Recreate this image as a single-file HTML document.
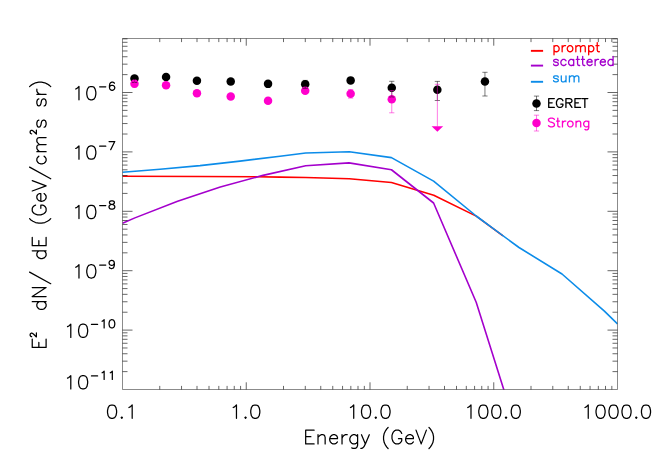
<!DOCTYPE html>
<html><head><meta charset="utf-8"><title>plot</title>
<style>html,body{margin:0;padding:0;background:#fff;font-family:"Liberation Sans",sans-serif}svg{display:block}</style></head>
<body>
<svg width="654" height="467" viewBox="0 0 654 467">
<rect width="654" height="467" fill="#fff"/>
<clipPath id="c"><rect x="122.5" y="38.5" width="495.0" height="351.0"/></clipPath>
<g clip-path="url(#c)">
<polyline points="122.50,176.30 200.00,176.50 256.50,176.80 280.00,177.10 305.70,177.50 349.30,178.70 391.45,182.50 433.75,195.30 476.20,216.10 503.00,235.95" fill="none" stroke="#ff0000" stroke-width="1.60" stroke-linejoin="round" stroke-linecap="butt"/>
<polyline points="122.50,223.25 134.90,217.87 177.60,201.14 220.30,187.03 263.00,175.35 305.70,165.80 349.00,162.90 391.45,169.75 433.60,203.00 476.20,302.30 503.60,389.00 519.00,437.60" fill="none" stroke="#a400cc" stroke-width="1.60" stroke-linejoin="round" stroke-linecap="butt"/>
<polyline points="122.50,172.20 160.00,169.20 200.00,165.60 240.00,161.10 280.00,156.25 305.70,153.00 349.30,151.70 391.45,157.60 433.60,181.10 476.20,216.00 519.00,247.50 562.00,274.00 604.40,311.10 617.50,324.00" fill="none" stroke="#0c8ce9" stroke-width="1.60" stroke-linejoin="round" stroke-linecap="butt"/>
</g>
<path d="M122.50 38.50H617.50V389.50H122.50Z" fill="none" stroke="#000" stroke-width="0.46"/>
<path d="M159.75 389.50v-3.60M159.75 38.50v3.60M181.54 389.50v-3.60M181.54 38.50v3.60M197.00 389.50v-3.60M197.00 38.50v3.60M209.00 389.50v-3.60M209.00 38.50v3.60M218.80 389.50v-3.60M218.80 38.50v3.60M227.08 389.50v-3.60M227.08 38.50v3.60M234.26 389.50v-3.60M234.26 38.50v3.60M240.59 389.50v-3.60M240.59 38.50v3.60M246.25 389.50v-7.20M246.25 38.50v7.20M283.50 389.50v-3.60M283.50 38.50v3.60M305.29 389.50v-3.60M305.29 38.50v3.60M320.75 389.50v-3.60M320.75 38.50v3.60M332.75 389.50v-3.60M332.75 38.50v3.60M342.55 389.50v-3.60M342.55 38.50v3.60M350.83 389.50v-3.60M350.83 38.50v3.60M358.01 389.50v-3.60M358.01 38.50v3.60M364.34 389.50v-3.60M364.34 38.50v3.60M370.00 389.50v-7.20M370.00 38.50v7.20M407.25 389.50v-3.60M407.25 38.50v3.60M429.04 389.50v-3.60M429.04 38.50v3.60M444.50 389.50v-3.60M444.50 38.50v3.60M456.50 389.50v-3.60M456.50 38.50v3.60M466.30 389.50v-3.60M466.30 38.50v3.60M474.58 389.50v-3.60M474.58 38.50v3.60M481.76 389.50v-3.60M481.76 38.50v3.60M488.09 389.50v-3.60M488.09 38.50v3.60M493.75 389.50v-7.20M493.75 38.50v7.20M531.00 389.50v-3.60M531.00 38.50v3.60M552.79 389.50v-3.60M552.79 38.50v3.60M568.25 389.50v-3.60M568.25 38.50v3.60M580.25 389.50v-3.60M580.25 38.50v3.60M590.05 389.50v-3.60M590.05 38.50v3.60M598.33 389.50v-3.60M598.33 38.50v3.60M605.51 389.50v-3.60M605.51 38.50v3.60M611.84 389.50v-3.60M611.84 38.50v3.60M122.50 371.62h5.00M617.50 371.62h-5.00M122.50 361.16h5.00M617.50 361.16h-5.00M122.50 353.74h5.00M617.50 353.74h-5.00M122.50 347.98h5.00M617.50 347.98h-5.00M122.50 343.28h5.00M617.50 343.28h-5.00M122.50 339.30h5.00M617.50 339.30h-5.00M122.50 335.86h5.00M617.50 335.86h-5.00M122.50 332.82h5.00M617.50 332.82h-5.00M122.50 330.10h10.00M617.50 330.10h-10.00M122.50 312.22h5.00M617.50 312.22h-5.00M122.50 301.76h5.00M617.50 301.76h-5.00M122.50 294.34h5.00M617.50 294.34h-5.00M122.50 288.58h5.00M617.50 288.58h-5.00M122.50 283.88h5.00M617.50 283.88h-5.00M122.50 279.90h5.00M617.50 279.90h-5.00M122.50 276.46h5.00M617.50 276.46h-5.00M122.50 273.42h5.00M617.50 273.42h-5.00M122.50 270.70h10.00M617.50 270.70h-10.00M122.50 252.82h5.00M617.50 252.82h-5.00M122.50 242.36h5.00M617.50 242.36h-5.00M122.50 234.94h5.00M617.50 234.94h-5.00M122.50 229.18h5.00M617.50 229.18h-5.00M122.50 224.48h5.00M617.50 224.48h-5.00M122.50 220.50h5.00M617.50 220.50h-5.00M122.50 217.06h5.00M617.50 217.06h-5.00M122.50 214.02h5.00M617.50 214.02h-5.00M122.50 211.30h10.00M617.50 211.30h-10.00M122.50 193.42h5.00M617.50 193.42h-5.00M122.50 182.96h5.00M617.50 182.96h-5.00M122.50 175.54h5.00M617.50 175.54h-5.00M122.50 169.78h5.00M617.50 169.78h-5.00M122.50 165.08h5.00M617.50 165.08h-5.00M122.50 161.10h5.00M617.50 161.10h-5.00M122.50 157.66h5.00M617.50 157.66h-5.00M122.50 154.62h5.00M617.50 154.62h-5.00M122.50 151.90h10.00M617.50 151.90h-10.00M122.50 134.02h5.00M617.50 134.02h-5.00M122.50 123.56h5.00M617.50 123.56h-5.00M122.50 116.14h5.00M617.50 116.14h-5.00M122.50 110.38h5.00M617.50 110.38h-5.00M122.50 105.68h5.00M617.50 105.68h-5.00M122.50 101.70h5.00M617.50 101.70h-5.00M122.50 98.26h5.00M617.50 98.26h-5.00M122.50 95.22h5.00M617.50 95.22h-5.00M122.50 92.50h10.00M617.50 92.50h-10.00M122.50 74.62h5.00M617.50 74.62h-5.00M122.50 64.16h5.00M617.50 64.16h-5.00M122.50 56.74h5.00M617.50 56.74h-5.00M122.50 50.98h5.00M617.50 50.98h-5.00M122.50 46.28h5.00M617.50 46.28h-5.00M122.50 42.30h5.00M617.50 42.30h-5.00M122.50 38.86h5.00M617.50 38.86h-5.00" fill="none" stroke="#000" stroke-width="0.60" stroke-linecap="butt"/>
<circle cx="134.50" cy="78.40" r="4.25" fill="#000"/>
<circle cx="166.06" cy="77.00" r="4.25" fill="#000"/>
<circle cx="196.94" cy="80.65" r="4.25" fill="#000"/>
<circle cx="230.73" cy="81.42" r="4.25" fill="#000"/>
<circle cx="268.04" cy="83.87" r="4.25" fill="#000"/>
<circle cx="305.20" cy="84.17" r="4.25" fill="#000"/>
<circle cx="350.64" cy="80.38" r="4.25" fill="#000"/>
<circle cx="391.77" cy="87.72" r="4.25" fill="#000"/>
<circle cx="437.36" cy="89.68" r="4.25" fill="#000"/>
<circle cx="484.95" cy="81.59" r="4.25" fill="#000"/>
<circle cx="134.50" cy="83.70" r="4.25" fill="#ff00cc"/>
<circle cx="166.06" cy="85.24" r="4.25" fill="#ff00cc"/>
<circle cx="196.94" cy="93.35" r="4.25" fill="#ff00cc"/>
<circle cx="230.73" cy="96.56" r="4.25" fill="#ff00cc"/>
<circle cx="268.04" cy="100.84" r="4.25" fill="#ff00cc"/>
<circle cx="305.20" cy="90.75" r="4.25" fill="#ff00cc"/>
<circle cx="350.64" cy="93.69" r="4.25" fill="#ff00cc"/>
<circle cx="391.77" cy="99.34" r="4.25" fill="#ff00cc"/>
<path d="M134.50 76.00V82.40M131.90 76.00h5.20M131.90 82.40h5.20" fill="none" stroke="#000" stroke-width="0.52"/>
<path d="M305.20 80.40V88.30M302.60 80.40h5.20M302.60 88.30h5.20" fill="none" stroke="#000" stroke-width="0.52"/>
<path d="M391.77 81.30V97.00M389.17 81.30h5.20M389.17 97.00h5.20" fill="none" stroke="#000" stroke-width="0.52"/>
<path d="M437.36 81.40V100.50M434.76 81.40h5.20M434.76 100.50h5.20" fill="none" stroke="#000" stroke-width="0.52"/>
<path d="M484.95 72.30V96.00M482.35 72.30h5.20M482.35 96.00h5.20" fill="none" stroke="#000" stroke-width="0.52"/>
<path d="M134.50 80.30V87.00M131.90 80.30h5.20M131.90 87.00h5.20" fill="none" stroke="#ff00cc" stroke-width="0.52"/>
<path d="M350.64 89.60V98.10M348.04 89.60h5.20M348.04 98.10h5.20" fill="none" stroke="#ff00cc" stroke-width="0.52"/>
<path d="M391.77 90.50V112.80M389.17 90.50h5.20M389.17 112.80h5.20" fill="none" stroke="#ff00cc" stroke-width="0.52"/>
<path d="M437.36 84.30V126.30M434.76 84.30h5.20" fill="none" stroke="#ff00cc" stroke-width="0.52"/>
<path d="M431.56 126.30h11.60l-5.80 5.50z" fill="#ff00cc"/>
<path d="M530.90 50.85H543.10" stroke="#ff0000" stroke-width="1.90" fill="none"/>
<path d="M530.90 65.60H543.10" stroke="#a400cc" stroke-width="1.90" fill="none"/>
<path d="M530.90 81.80H543.10" stroke="#0c8ce9" stroke-width="1.90" fill="none"/>
<path transform="translate(552.30 51.75) translate(0.00 0)" d="M1.71 -6.09L1.71 3.04M1.71 -4.79L2.57 -5.66L3.42 -6.09L4.71 -6.09L5.56 -5.66L6.42 -4.79L6.85 -3.48L6.85 -2.61L6.42 -1.30L5.56 -0.43L4.71 0.00L3.42 0.00L2.57 -0.43L1.71 -1.30M9.84 -6.09L9.84 0.00M9.84 -3.48L10.27 -4.79L11.13 -5.66L11.98 -6.09L13.27 -6.09M17.12 -6.09L16.26 -5.66L15.41 -4.79L14.98 -3.48L14.98 -2.61L15.41 -1.30L16.26 -0.43L17.12 0.00L18.40 0.00L19.26 -0.43L20.12 -1.30L20.54 -2.61L20.54 -3.48L20.12 -4.79L19.26 -5.66L18.40 -6.09L17.12 -6.09M23.54 -6.09L23.54 0.00M23.54 -4.35L24.82 -5.66L25.68 -6.09L26.96 -6.09L27.82 -5.66L28.25 -4.35L28.25 0.00M28.25 -4.35L29.53 -5.66L30.39 -6.09L31.67 -6.09L32.53 -5.66L32.96 -4.35L32.96 0.00M36.38 -6.09L36.38 3.04M36.38 -4.79L37.24 -5.66L38.09 -6.09L39.38 -6.09L40.23 -5.66L41.09 -4.79L41.52 -3.48L41.52 -2.61L41.09 -1.30L40.23 -0.43L39.38 0.00L38.09 0.00L37.24 -0.43L36.38 -1.30M44.94 -9.13L44.94 -1.74L45.37 -0.43L46.22 0.00L47.08 0.00M43.66 -6.09L46.65 -6.09" fill="none" stroke="#ff0000" stroke-width="1.32" stroke-linecap="round" stroke-linejoin="round"/>
<path transform="translate(552.30 65.50) translate(0.00 0)" d="M5.99 -4.79L5.56 -5.66L4.28 -6.09L3.00 -6.09L1.71 -5.66L1.28 -4.79L1.71 -3.92L2.57 -3.48L4.71 -3.04L5.56 -2.61L5.99 -1.74L5.99 -1.30L5.56 -0.43L4.28 0.00L3.00 0.00L1.71 -0.43L1.28 -1.30M13.70 -4.79L12.84 -5.66L11.98 -6.09L10.70 -6.09L9.84 -5.66L8.99 -4.79L8.56 -3.48L8.56 -2.61L8.99 -1.30L9.84 -0.43L10.70 0.00L11.98 0.00L12.84 -0.43L13.70 -1.30M21.40 -6.09L21.40 0.00M21.40 -4.79L20.54 -5.66L19.69 -6.09L18.40 -6.09L17.55 -5.66L16.69 -4.79L16.26 -3.48L16.26 -2.61L16.69 -1.30L17.55 -0.43L18.40 0.00L19.69 0.00L20.54 -0.43L21.40 -1.30M25.25 -9.13L25.25 -1.74L25.68 -0.43L26.54 0.00L27.39 0.00M23.97 -6.09L26.96 -6.09M30.39 -9.13L30.39 -1.74L30.82 -0.43L31.67 0.00L32.53 0.00M29.10 -6.09L32.10 -6.09M34.67 -3.48L39.80 -3.48L39.80 -4.35L39.38 -5.22L38.95 -5.66L38.09 -6.09L36.81 -6.09L35.95 -5.66L35.10 -4.79L34.67 -3.48L34.67 -2.61L35.10 -1.30L35.95 -0.43L36.81 0.00L38.09 0.00L38.95 -0.43L39.80 -1.30M42.80 -6.09L42.80 0.00M42.80 -3.48L43.23 -4.79L44.08 -5.66L44.94 -6.09L46.22 -6.09M47.94 -3.48L53.07 -3.48L53.07 -4.35L52.64 -5.22L52.22 -5.66L51.36 -6.09L50.08 -6.09L49.22 -5.66L48.36 -4.79L47.94 -3.48L47.94 -2.61L48.36 -1.30L49.22 -0.43L50.08 0.00L51.36 0.00L52.22 -0.43L53.07 -1.30M60.78 -9.13L60.78 0.00M60.78 -4.79L59.92 -5.66L59.06 -6.09L57.78 -6.09L56.92 -5.66L56.07 -4.79L55.64 -3.48L55.64 -2.61L56.07 -1.30L56.92 -0.43L57.78 0.00L59.06 0.00L59.92 -0.43L60.78 -1.30" fill="none" stroke="#a400cc" stroke-width="1.32" stroke-linecap="round" stroke-linejoin="round"/>
<path transform="translate(552.30 81.90) translate(0.00 0)" d="M5.99 -4.79L5.56 -5.66L4.28 -6.09L3.00 -6.09L1.71 -5.66L1.28 -4.79L1.71 -3.92L2.57 -3.48L4.71 -3.04L5.56 -2.61L5.99 -1.74L5.99 -1.30L5.56 -0.43L4.28 0.00L3.00 0.00L1.71 -0.43L1.28 -1.30M8.99 -6.09L8.99 -1.74L9.42 -0.43L10.27 0.00L11.56 0.00L12.41 -0.43L13.70 -1.74M13.70 -6.09L13.70 0.00M17.12 -6.09L17.12 0.00M17.12 -4.35L18.40 -5.66L19.26 -6.09L20.54 -6.09L21.40 -5.66L21.83 -4.35L21.83 0.00M21.83 -4.35L23.11 -5.66L23.97 -6.09L25.25 -6.09L26.11 -5.66L26.54 -4.35L26.54 0.00" fill="none" stroke="#0c8ce9" stroke-width="1.32" stroke-linecap="round" stroke-linejoin="round"/>
<path d="M536.50 96.10V110.60M533.90 96.10h5.20M533.90 110.60h5.20" fill="none" stroke="#000" stroke-width="0.52"/>
<circle cx="536.50" cy="103.45" r="4.25" fill="#000"/>
<path d="M536.50 115.20V131.00M533.90 115.20h5.20M533.90 131.00h5.20" fill="none" stroke="#ff00cc" stroke-width="0.52"/>
<circle cx="536.50" cy="122.90" r="4.25" fill="#ff00cc"/>
<path transform="translate(547.00 107.40) translate(0.00 0)" d="M1.72 -8.78L1.72 0.00M1.72 -8.78L7.31 -8.78M1.72 -4.60L5.16 -4.60M1.72 0.00L7.31 0.00M15.91 -6.69L15.48 -7.52L14.62 -8.36L13.76 -8.78L12.04 -8.78L11.18 -8.36L10.32 -7.52L9.89 -6.69L9.46 -5.43L9.46 -3.34L9.89 -2.09L10.32 -1.25L11.18 -0.42L12.04 0.00L13.76 0.00L14.62 -0.42L15.48 -1.25L15.91 -2.09L15.91 -3.34M13.76 -3.34L15.91 -3.34M18.92 -8.78L18.92 0.00M18.92 -8.78L22.79 -8.78L24.08 -8.36L24.51 -7.94L24.94 -7.11L24.94 -6.27L24.51 -5.43L24.08 -5.02L22.79 -4.60L18.92 -4.60M21.93 -4.60L24.94 0.00M27.95 -8.78L27.95 0.00M27.95 -8.78L33.54 -8.78M27.95 -4.60L31.39 -4.60M27.95 0.00L33.54 0.00M37.84 -8.78L37.84 0.00M34.83 -8.78L40.85 -8.78" fill="none" stroke="#000" stroke-width="1.32" stroke-linecap="round" stroke-linejoin="round"/>
<path transform="translate(547.20 126.90) translate(0.00 0)" d="M7.21 -7.52L6.36 -8.36L5.09 -8.78L3.39 -8.78L2.12 -8.36L1.27 -7.52L1.27 -6.69L1.70 -5.85L2.12 -5.43L2.97 -5.02L5.51 -4.18L6.36 -3.76L6.78 -3.34L7.21 -2.51L7.21 -1.25L6.36 -0.42L5.09 0.00L3.39 0.00L2.12 -0.42L1.27 -1.25M10.60 -8.78L10.60 -1.67L11.02 -0.42L11.87 0.00L12.72 0.00M9.33 -5.85L12.30 -5.85M15.26 -5.85L15.26 0.00M15.26 -3.34L15.69 -4.60L16.54 -5.43L17.38 -5.85L18.66 -5.85M22.47 -5.85L21.62 -5.43L20.78 -4.60L20.35 -3.34L20.35 -2.51L20.78 -1.25L21.62 -0.42L22.47 0.00L23.74 0.00L24.59 -0.42L25.44 -1.25L25.86 -2.51L25.86 -3.34L25.44 -4.60L24.59 -5.43L23.74 -5.85L22.47 -5.85M28.83 -5.85L28.83 0.00M28.83 -4.18L30.10 -5.43L30.95 -5.85L32.22 -5.85L33.07 -5.43L33.50 -4.18L33.50 0.00M41.55 -5.85L41.55 0.84L41.13 2.09L40.70 2.51L39.86 2.93L38.58 2.93L37.74 2.51M41.55 -4.60L40.70 -5.43L39.86 -5.85L38.58 -5.85L37.74 -5.43L36.89 -4.60L36.46 -3.34L36.46 -2.51L36.89 -1.25L37.74 -0.42L38.58 0.00L39.86 0.00L40.70 -0.42L41.55 -1.25" fill="none" stroke="#ff00cc" stroke-width="1.32" stroke-linecap="round" stroke-linejoin="round"/>
<path transform="translate(63.65 388.90) translate(0.00 0)" d="M3.89 -10.74L5.19 -11.38L7.14 -13.27L7.14 0.00M18.82 -13.27L16.87 -12.64L15.58 -10.74L14.93 -7.58L14.93 -5.69L15.58 -2.53L16.87 -0.63L18.82 0.00L20.12 0.00L22.07 -0.63L23.36 -2.53L24.01 -5.69L24.01 -7.58L23.36 -10.74L22.07 -12.64L20.12 -13.27L18.82 -13.27" fill="none" stroke="#000" stroke-width="1.25" stroke-linecap="round" stroke-linejoin="round"/>
<path transform="translate(91.46 379.40) translate(0.00 0)" d="M0.00 -3.49L6.13 -3.49M10.63 -6.60L11.45 -6.98L12.68 -8.15L12.68 0.00M18.81 -6.60L19.63 -6.98L20.86 -8.15L20.86 0.00" fill="none" stroke="#000" stroke-width="1.25" stroke-linecap="round" stroke-linejoin="round"/>
<path transform="translate(63.65 337.40) translate(0.00 0)" d="M3.89 -10.74L5.19 -11.38L7.14 -13.27L7.14 0.00M18.82 -13.27L16.87 -12.64L15.58 -10.74L14.93 -7.58L14.93 -5.69L15.58 -2.53L16.87 -0.63L18.82 0.00L20.12 0.00L22.07 -0.63L23.36 -2.53L24.01 -5.69L24.01 -7.58L23.36 -10.74L22.07 -12.64L20.12 -13.27L18.82 -13.27" fill="none" stroke="#000" stroke-width="1.25" stroke-linecap="round" stroke-linejoin="round"/>
<path transform="translate(91.46 327.90) translate(0.00 0)" d="M0.00 -3.49L6.13 -3.49M10.63 -6.60L11.45 -6.98L12.68 -8.15L12.68 0.00M20.04 -8.15L18.81 -7.76L18.00 -6.60L17.59 -4.66L17.59 -3.49L18.00 -1.55L18.81 -0.39L20.04 0.00L20.86 0.00L22.09 -0.39L22.90 -1.55L23.31 -3.49L23.31 -4.66L22.90 -6.60L22.09 -7.76L20.86 -8.15L20.04 -8.15" fill="none" stroke="#000" stroke-width="1.25" stroke-linecap="round" stroke-linejoin="round"/>
<path transform="translate(71.83 278.00) translate(0.00 0)" d="M3.89 -10.74L5.19 -11.38L7.14 -13.27L7.14 0.00M18.82 -13.27L16.87 -12.64L15.58 -10.74L14.93 -7.58L14.93 -5.69L15.58 -2.53L16.87 -0.63L18.82 0.00L20.12 0.00L22.07 -0.63L23.36 -2.53L24.01 -5.69L24.01 -7.58L23.36 -10.74L22.07 -12.64L20.12 -13.27L18.82 -13.27" fill="none" stroke="#000" stroke-width="1.25" stroke-linecap="round" stroke-linejoin="round"/>
<path transform="translate(99.64 268.50) translate(0.00 0)" d="M0.00 -3.49L6.13 -3.49M14.72 -5.43L14.31 -4.27L13.50 -3.49L12.27 -3.10L11.86 -3.10L10.63 -3.49L9.82 -4.27L9.41 -5.43L9.41 -5.82L9.82 -6.98L10.63 -7.76L11.86 -8.15L12.27 -8.15L13.50 -7.76L14.31 -6.98L14.72 -5.43L14.72 -3.49L14.31 -1.55L13.50 -0.39L12.27 0.00L11.45 0.00L10.22 -0.39L9.82 -1.16" fill="none" stroke="#000" stroke-width="1.25" stroke-linecap="round" stroke-linejoin="round"/>
<path transform="translate(71.83 218.60) translate(0.00 0)" d="M3.89 -10.74L5.19 -11.38L7.14 -13.27L7.14 0.00M18.82 -13.27L16.87 -12.64L15.58 -10.74L14.93 -7.58L14.93 -5.69L15.58 -2.53L16.87 -0.63L18.82 0.00L20.12 0.00L22.07 -0.63L23.36 -2.53L24.01 -5.69L24.01 -7.58L23.36 -10.74L22.07 -12.64L20.12 -13.27L18.82 -13.27" fill="none" stroke="#000" stroke-width="1.25" stroke-linecap="round" stroke-linejoin="round"/>
<path transform="translate(99.64 209.10) translate(0.00 0)" d="M0.00 -3.49L6.13 -3.49M11.45 -8.15L10.22 -7.76L9.82 -6.98L9.82 -6.21L10.22 -5.43L11.04 -5.04L12.68 -4.66L13.91 -4.27L14.72 -3.49L15.13 -2.72L15.13 -1.55L14.72 -0.78L14.31 -0.39L13.09 0.00L11.45 0.00L10.22 -0.39L9.82 -0.78L9.41 -1.55L9.41 -2.72L9.82 -3.49L10.63 -4.27L11.86 -4.66L13.50 -5.04L14.31 -5.43L14.72 -6.21L14.72 -6.98L14.31 -7.76L13.09 -8.15L11.45 -8.15" fill="none" stroke="#000" stroke-width="1.25" stroke-linecap="round" stroke-linejoin="round"/>
<path transform="translate(71.83 159.20) translate(0.00 0)" d="M3.89 -10.74L5.19 -11.38L7.14 -13.27L7.14 0.00M18.82 -13.27L16.87 -12.64L15.58 -10.74L14.93 -7.58L14.93 -5.69L15.58 -2.53L16.87 -0.63L18.82 0.00L20.12 0.00L22.07 -0.63L23.36 -2.53L24.01 -5.69L24.01 -7.58L23.36 -10.74L22.07 -12.64L20.12 -13.27L18.82 -13.27" fill="none" stroke="#000" stroke-width="1.25" stroke-linecap="round" stroke-linejoin="round"/>
<path transform="translate(99.64 149.70) translate(0.00 0)" d="M0.00 -3.49L6.13 -3.49M15.13 -8.15L11.04 0.00M9.41 -8.15L15.13 -8.15" fill="none" stroke="#000" stroke-width="1.25" stroke-linecap="round" stroke-linejoin="round"/>
<path transform="translate(71.83 99.80) translate(0.00 0)" d="M3.89 -10.74L5.19 -11.38L7.14 -13.27L7.14 0.00M18.82 -13.27L16.87 -12.64L15.58 -10.74L14.93 -7.58L14.93 -5.69L15.58 -2.53L16.87 -0.63L18.82 0.00L20.12 0.00L22.07 -0.63L23.36 -2.53L24.01 -5.69L24.01 -7.58L23.36 -10.74L22.07 -12.64L20.12 -13.27L18.82 -13.27" fill="none" stroke="#000" stroke-width="1.25" stroke-linecap="round" stroke-linejoin="round"/>
<path transform="translate(99.64 90.30) translate(0.00 0)" d="M0.00 -3.49L6.13 -3.49M14.72 -6.98L14.31 -7.76L13.09 -8.15L12.27 -8.15L11.04 -7.76L10.22 -6.60L9.82 -4.66L9.82 -2.72L10.22 -1.16L11.04 -0.39L12.27 0.00L12.68 0.00L13.91 -0.39L14.72 -1.16L15.13 -2.33L15.13 -2.72L14.72 -3.88L13.91 -4.66L12.68 -5.04L12.27 -5.04L11.04 -4.66L10.22 -3.88L9.82 -2.72" fill="none" stroke="#000" stroke-width="1.25" stroke-linecap="round" stroke-linejoin="round"/>
<path transform="translate(121.80 418.30) translate(-16.23 0)" d="M5.84 -13.27L3.89 -12.64L2.60 -10.74L1.95 -7.58L1.95 -5.69L2.60 -2.53L3.89 -0.63L5.84 0.00L7.14 0.00L9.09 -0.63L10.38 -2.53L11.03 -5.69L11.03 -7.58L10.38 -10.74L9.09 -12.64L7.14 -13.27L5.84 -13.27M16.23 -1.26L15.58 -0.63L16.23 0.00L16.87 -0.63L16.23 -1.26M23.36 -10.74L24.66 -11.38L26.61 -13.27L26.61 0.00" fill="none" stroke="#000" stroke-width="1.25" stroke-linecap="round" stroke-linejoin="round"/>
<path transform="translate(245.55 418.30) translate(-16.23 0)" d="M3.89 -10.74L5.19 -11.38L7.14 -13.27L7.14 0.00M16.23 -1.26L15.58 -0.63L16.23 0.00L16.87 -0.63L16.23 -1.26M25.31 -13.27L23.36 -12.64L22.07 -10.74L21.42 -7.58L21.42 -5.69L22.07 -2.53L23.36 -0.63L25.31 0.00L26.61 0.00L28.56 -0.63L29.85 -2.53L30.50 -5.69L30.50 -7.58L29.85 -10.74L28.56 -12.64L26.61 -13.27L25.31 -13.27" fill="none" stroke="#000" stroke-width="1.25" stroke-linecap="round" stroke-linejoin="round"/>
<path transform="translate(369.30 418.30) translate(-22.72 0)" d="M3.89 -10.74L5.19 -11.38L7.14 -13.27L7.14 0.00M18.82 -13.27L16.87 -12.64L15.58 -10.74L14.93 -7.58L14.93 -5.69L15.58 -2.53L16.87 -0.63L18.82 0.00L20.12 0.00L22.07 -0.63L23.36 -2.53L24.01 -5.69L24.01 -7.58L23.36 -10.74L22.07 -12.64L20.12 -13.27L18.82 -13.27M29.21 -1.26L28.56 -0.63L29.21 0.00L29.85 -0.63L29.21 -1.26M38.29 -13.27L36.34 -12.64L35.05 -10.74L34.40 -7.58L34.40 -5.69L35.05 -2.53L36.34 -0.63L38.29 0.00L39.59 0.00L41.54 -0.63L42.83 -2.53L43.48 -5.69L43.48 -7.58L42.83 -10.74L41.54 -12.64L39.59 -13.27L38.29 -13.27" fill="none" stroke="#000" stroke-width="1.25" stroke-linecap="round" stroke-linejoin="round"/>
<path transform="translate(493.05 418.30) translate(-29.20 0)" d="M3.89 -10.74L5.19 -11.38L7.14 -13.27L7.14 0.00M18.82 -13.27L16.87 -12.64L15.58 -10.74L14.93 -7.58L14.93 -5.69L15.58 -2.53L16.87 -0.63L18.82 0.00L20.12 0.00L22.07 -0.63L23.36 -2.53L24.01 -5.69L24.01 -7.58L23.36 -10.74L22.07 -12.64L20.12 -13.27L18.82 -13.27M31.80 -13.27L29.85 -12.64L28.56 -10.74L27.91 -7.58L27.91 -5.69L28.56 -2.53L29.85 -0.63L31.80 0.00L33.10 0.00L35.05 -0.63L36.34 -2.53L36.99 -5.69L36.99 -7.58L36.34 -10.74L35.05 -12.64L33.10 -13.27L31.80 -13.27M42.18 -1.26L41.54 -0.63L42.18 0.00L42.83 -0.63L42.18 -1.26M51.27 -13.27L49.32 -12.64L48.03 -10.74L47.38 -7.58L47.38 -5.69L48.03 -2.53L49.32 -0.63L51.27 0.00L52.57 0.00L54.52 -0.63L55.81 -2.53L56.46 -5.69L56.46 -7.58L55.81 -10.74L54.52 -12.64L52.57 -13.27L51.27 -13.27" fill="none" stroke="#000" stroke-width="1.25" stroke-linecap="round" stroke-linejoin="round"/>
<path transform="translate(616.80 418.30) translate(-35.70 0)" d="M3.89 -10.74L5.19 -11.38L7.14 -13.27L7.14 0.00M18.82 -13.27L16.87 -12.64L15.58 -10.74L14.93 -7.58L14.93 -5.69L15.58 -2.53L16.87 -0.63L18.82 0.00L20.12 0.00L22.07 -0.63L23.36 -2.53L24.01 -5.69L24.01 -7.58L23.36 -10.74L22.07 -12.64L20.12 -13.27L18.82 -13.27M31.80 -13.27L29.85 -12.64L28.56 -10.74L27.91 -7.58L27.91 -5.69L28.56 -2.53L29.85 -0.63L31.80 0.00L33.10 0.00L35.05 -0.63L36.34 -2.53L36.99 -5.69L36.99 -7.58L36.34 -10.74L35.05 -12.64L33.10 -13.27L31.80 -13.27M44.78 -13.27L42.83 -12.64L41.54 -10.74L40.89 -7.58L40.89 -5.69L41.54 -2.53L42.83 -0.63L44.78 0.00L46.08 0.00L48.03 -0.63L49.32 -2.53L49.97 -5.69L49.97 -7.58L49.32 -10.74L48.03 -12.64L46.08 -13.27L44.78 -13.27M55.16 -1.26L54.52 -0.63L55.16 0.00L55.81 -0.63L55.16 -1.26M64.25 -13.27L62.30 -12.64L61.01 -10.74L60.36 -7.58L60.36 -5.69L61.01 -2.53L62.30 -0.63L64.25 0.00L65.55 0.00L67.50 -0.63L68.79 -2.53L69.44 -5.69L69.44 -7.58L68.79 -10.74L67.50 -12.64L65.55 -13.27L64.25 -13.27" fill="none" stroke="#000" stroke-width="1.25" stroke-linecap="round" stroke-linejoin="round"/>
<path transform="translate(369.60 443.90) translate(-66.52 0)" d="M2.60 -13.76L2.60 0.00M2.60 -13.76L11.03 -13.76M2.60 -7.21L7.79 -7.21M2.60 0.00L11.03 0.00M14.93 -9.17L14.93 0.00M14.93 -6.55L16.87 -8.52L18.17 -9.17L20.12 -9.17L21.42 -8.52L22.07 -6.55L22.07 0.00M26.61 -5.24L34.40 -5.24L34.40 -6.55L33.75 -7.86L33.10 -8.52L31.80 -9.17L29.85 -9.17L28.56 -8.52L27.26 -7.21L26.61 -5.24L26.61 -3.93L27.26 -1.97L28.56 -0.66L29.85 0.00L31.80 0.00L33.10 -0.66L34.40 -1.97M38.94 -9.17L38.94 0.00M38.94 -5.24L39.59 -7.21L40.89 -8.52L42.19 -9.17L44.13 -9.17M54.52 -9.17L54.52 1.31L53.87 3.28L53.22 3.93L51.92 4.58L49.97 4.58L48.68 3.93M54.52 -7.21L53.22 -8.52L51.92 -9.17L49.97 -9.17L48.68 -8.52L47.38 -7.21L46.73 -5.24L46.73 -3.93L47.38 -1.97L48.68 -0.66L49.97 0.00L51.92 0.00L53.22 -0.66L54.52 -1.97M58.41 -9.17L62.30 0.00M66.20 -9.17L62.30 0.00L61.01 2.62L59.71 3.93L58.41 4.58L57.76 4.58M85.02 -16.38L83.72 -15.07L82.42 -13.10L81.13 -10.48L80.48 -7.21L80.48 -4.58L81.13 -1.31L82.42 1.31L83.72 3.28L85.02 4.58M98.65 -10.48L98.00 -11.79L96.70 -13.10L95.40 -13.76L92.81 -13.76L91.51 -13.10L90.21 -11.79L89.56 -10.48L88.91 -8.52L88.91 -5.24L89.56 -3.28L90.21 -1.97L91.51 -0.66L92.81 0.00L95.40 0.00L96.70 -0.66L98.00 -1.97L98.65 -3.28L98.65 -5.24M95.40 -5.24L98.65 -5.24M102.54 -5.24L110.33 -5.24L110.33 -6.55L109.68 -7.86L109.03 -8.52L107.73 -9.17L105.79 -9.17L104.49 -8.52L103.19 -7.21L102.54 -5.24L102.54 -3.93L103.19 -1.97L104.49 -0.66L105.79 0.00L107.73 0.00L109.03 -0.66L110.33 -1.97M112.93 -13.76L118.12 0.00M123.31 -13.76L118.12 0.00M125.91 -16.38L127.20 -15.07L128.50 -13.10L129.80 -10.48L130.45 -7.21L130.45 -4.58L129.80 -1.31L128.50 1.31L127.20 3.28L125.91 4.58" fill="none" stroke="#000" stroke-width="1.25" stroke-linecap="round" stroke-linejoin="round"/>
<path transform="translate(46.10 214.80) rotate(-90) translate(-135.24 0)" d="M2.58 -13.86L2.58 0.00M2.58 -13.86L10.95 -13.86M2.58 -7.26L7.73 -7.26M2.58 0.00L10.95 0.00M13.40 -14.45L13.40 -14.75L13.69 -15.34L13.97 -15.64L14.55 -15.94L15.71 -15.94L16.29 -15.64L16.58 -15.34L16.87 -14.75L16.87 -14.15L16.58 -13.56L16.00 -12.67L13.11 -9.70L17.16 -9.70M48.30 -13.86L48.30 0.00M48.30 -7.26L47.01 -8.58L45.72 -9.24L43.79 -9.24L42.50 -8.58L41.22 -7.26L40.57 -5.28L40.57 -3.96L41.22 -1.98L42.50 -0.66L43.79 0.00L45.72 0.00L47.01 -0.66L48.30 -1.98M53.45 -13.86L53.45 0.00M53.45 -13.86L62.47 0.00M62.47 -13.86L62.47 0.00M77.92 -16.50L66.33 4.62M99.18 -13.86L99.18 0.00M99.18 -7.26L97.89 -8.58L96.60 -9.24L94.67 -9.24L93.38 -8.58L92.09 -7.26L91.45 -5.28L91.45 -3.96L92.09 -1.98L93.38 -0.66L94.67 0.00L96.60 0.00L97.89 -0.66L99.18 -1.98M104.33 -13.86L104.33 0.00M104.33 -13.86L112.70 -13.86M104.33 -7.26L109.48 -7.26M104.33 0.00L112.70 0.00M131.38 -16.50L130.09 -15.18L128.80 -13.20L127.51 -10.56L126.87 -7.26L126.87 -4.62L127.51 -1.32L128.80 1.32L130.09 3.30L131.38 4.62M144.90 -10.56L144.26 -11.88L142.97 -13.20L141.68 -13.86L139.10 -13.86L137.82 -13.20L136.53 -11.88L135.88 -10.56L135.24 -8.58L135.24 -5.28L135.88 -3.30L136.53 -1.98L137.82 -0.66L139.10 0.00L141.68 0.00L142.97 -0.66L144.26 -1.98L144.90 -3.30L144.90 -5.28M141.68 -5.28L144.90 -5.28M148.76 -5.28L156.49 -5.28L156.49 -6.60L155.85 -7.92L155.20 -8.58L153.92 -9.24L151.98 -9.24L150.70 -8.58L149.41 -7.26L148.76 -5.28L148.76 -3.96L149.41 -1.98L150.70 -0.66L151.98 0.00L153.92 0.00L155.20 -0.66L156.49 -1.98M159.07 -13.86L164.22 0.00M169.37 -13.86L164.22 0.00M182.90 -16.50L171.30 4.62M193.84 -7.26L192.56 -8.58L191.27 -9.24L189.34 -9.24L188.05 -8.58L186.76 -7.26L186.12 -5.28L186.12 -3.96L186.76 -1.98L188.05 -0.66L189.34 0.00L191.27 0.00L192.56 -0.66L193.84 -1.98M198.35 -9.24L198.35 0.00M198.35 -6.60L200.28 -8.58L201.57 -9.24L203.50 -9.24L204.79 -8.58L205.44 -6.60L205.44 0.00M205.44 -6.60L207.37 -8.58L208.66 -9.24L210.59 -9.24L211.88 -8.58L212.52 -6.60L212.52 0.00M216.26 -14.45L216.26 -14.75L216.55 -15.34L216.83 -15.64L217.41 -15.94L218.57 -15.94L219.15 -15.64L219.44 -15.34L219.73 -14.75L219.73 -14.15L219.44 -13.56L218.86 -12.67L215.97 -9.70L220.02 -9.70M229.91 -7.26L229.26 -8.58L227.33 -9.24L225.40 -9.24L223.47 -8.58L222.82 -7.26L223.47 -5.94L224.76 -5.28L227.98 -4.62L229.26 -3.96L229.91 -2.64L229.91 -1.98L229.26 -0.66L227.33 0.00L225.40 0.00L223.47 -0.66L222.82 -1.98M251.16 -7.26L250.52 -8.58L248.58 -9.24L246.65 -9.24L244.72 -8.58L244.08 -7.26L244.72 -5.94L246.01 -5.28L249.23 -4.62L250.52 -3.96L251.16 -2.64L251.16 -1.98L250.52 -0.66L248.58 0.00L246.65 0.00L244.72 -0.66L244.08 -1.98M255.67 -9.24L255.67 0.00M255.67 -5.28L256.31 -7.26L257.60 -8.58L258.89 -9.24L260.82 -9.24M263.40 -16.50L264.68 -15.18L265.97 -13.20L267.26 -10.56L267.90 -7.26L267.90 -4.62L267.26 -1.32L265.97 1.32L264.68 3.30L263.40 4.62" fill="none" stroke="#000" stroke-width="1.25" stroke-linecap="round" stroke-linejoin="round"/>
</svg>
</body></html>
